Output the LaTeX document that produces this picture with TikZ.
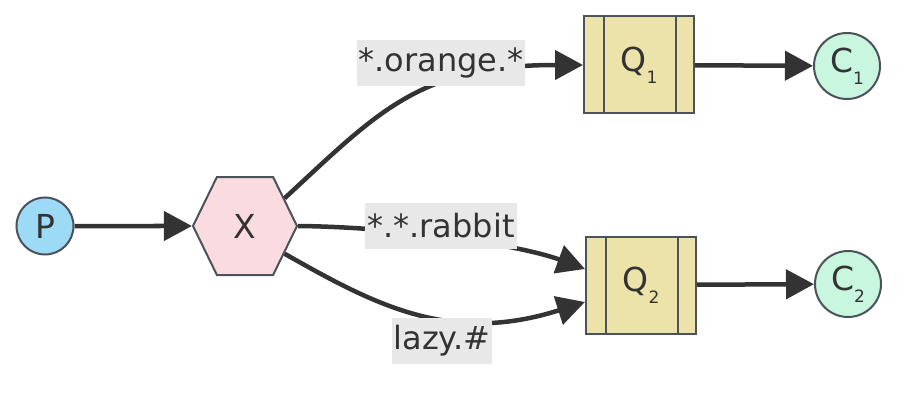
\documentclass[tikz,border=0pt]{standalone}
\usepackage{fontspec}
\setmainfont{DejaVu Sans}
\usetikzlibrary{shapes.symbols,arrows.meta}
\definecolor{edgecol}{HTML}{333333}
\definecolor{bordercol}{HTML}{4B5259}
\definecolor{pfill}{HTML}{9DDAF6}
\definecolor{xfill}{HTML}{F9DBE0}
\definecolor{qfill}{HTML}{ECE3AA}
\definecolor{cfill}{HTML}{C9F6DE}
\definecolor{lblfill}{HTML}{E8E8E8}
\newcommand{\subnum}[1]{\raisebox{-12pt}{\fontsize{17pt}{17pt}\selectfont #1}}
\tikzset{
  base/.style={draw=bordercol, line width=2pt, text=edgecol,
    font=\fontsize{33pt}{33pt}\selectfont, inner sep=0pt},
  prod/.style={base, circle, fill=pfill, minimum size=57pt},
  exch/.style={base, signal, signal to=east and west, signal pointer angle=128,
    fill=xfill, minimum width=104pt, minimum height=98pt},
  queue/.style={base, rectangle, fill=qfill, minimum width=110pt, minimum height=97pt,
    path picture={\draw[bordercol, line width=2pt]
      ([xshift=20pt]path picture bounding box.north west) -- ([xshift=20pt]path picture bounding box.south west)
      ([xshift=-18pt]path picture bounding box.north east) -- ([xshift=-18pt]path picture bounding box.south east);}},
  cons/.style={base, circle, fill=cfill, minimum size=66pt},
  lbl/.style={fill=lblfill, text=edgecol, font=\fontsize{32pt}{32pt}\selectfont,
    inner xsep=2pt, inner ysep=0pt, minimum height=46pt},
  edge/.style={draw=edgecol, line width=4.5pt, -{Triangle[length=28pt,width=29pt]}}
}
\begin{document}
\begin{tikzpicture}[x=1pt,y=-1pt]
  \useasboundingbox (0,0) rectangle (913,401);
  % Draw nodes
  \node[prod]  (P)  at (45,226)  {P};
  \node[exch]  (X)  at (245,226) {X};
  \node[queue] (Q1) at (639,65)  {Q\subnum{1}};
  \node[queue] (Q2) at (641,285) {Q\subnum{2}};
  \node[cons]  (C1) at (847,66)  {C\subnum{1}};
  \node[cons]  (C2) at (848,284) {C\subnum{2}};
  % Draw edges
  \draw[edge] (P) -- (X);
  \draw[edge] (X.35) .. controls (380,110) and (420,65) .. (Q1.west);
  \draw[edge] (X.east) .. controls (400,227) and (520,245) .. ([yshift=16pt]Q2.west);
  \draw[edge] (X.-35) .. controls (375,305) and (450,345) .. ([yshift=-17pt]Q2.west);
  \draw[edge] (Q1) -- (C1);
  \draw[edge] (Q2) -- (C2);
  % Edge labels
  \node[lbl] (lorange) at (441,63)  {*.orange.*};
  \node[lbl] (lrabbit) at (441,226) {*.*.rabbit};
  \node[lbl] (llazy)   at (442,341) {lazy.\#};
\end{tikzpicture}
\end{document}
